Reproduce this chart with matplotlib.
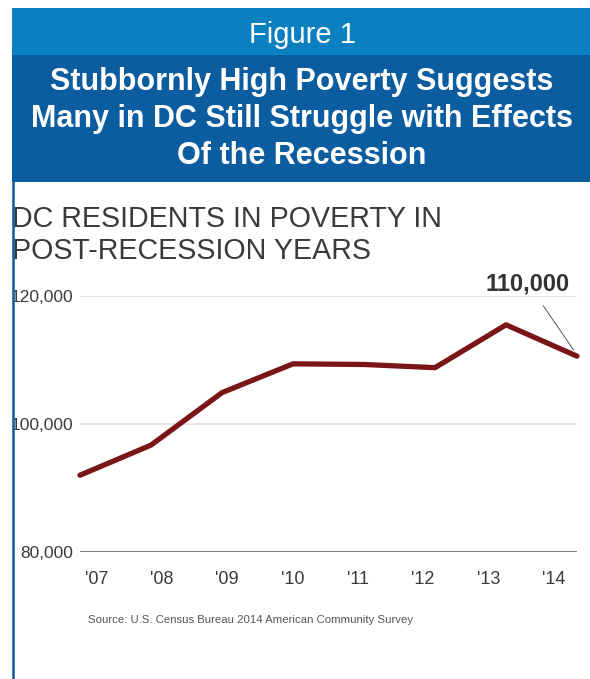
import matplotlib.pyplot as plt
from matplotlib.patches import Rectangle
from matplotlib.lines import Line2D

years = [2007, 2008, 2009, 2010, 2011, 2012, 2013, 2014]
year_labels = ["'07", "'08", "'09", "'10", "'11", "'12", "'13", "'14"]
residents_in_poverty = [92000, 96700, 104900, 109400, 109300, 108800, 115500, 110600]
y_ticks = [80000, 100000, 120000]
y_tick_labels = ["80,000", "100,000", "120,000"]
callout = "110,000"

W, H = 590, 679
fig = plt.figure(figsize=(W / 100, H / 100), dpi=100)


def fx(px):
    return px / W


def fy(py):
    return 1 - py / H


sans = ['Liberation Sans', 'DejaVu Sans']

# header bands
fig.add_artist(Rectangle((fx(12), fy(55)), fx(590 - 12), 47 / H,
                         transform=fig.transFigure, color='#0a80c1', lw=0))
fig.add_artist(Rectangle((fx(12), fy(182)), fx(590 - 12), 127 / H,
                         transform=fig.transFigure, color='#0c5d9f', lw=0))
fig.add_artist(Line2D([fx(13), fx(13)], [fy(182), 0], transform=fig.transFigure,
                      color='#0c5d9f', lw=1.8, zorder=10))

fig.text(fx(302), fy(35), "Figure 1", color='white', fontsize=21,
         ha='center', va='center', family=sans)
title_lines = ["Stubbornly High Poverty Suggests",
               "Many in DC Still Struggle with Effects",
               "Of the Recession"]
for i, line in enumerate(title_lines):
    fig.text(fx(302), fy(82 + i * 37), line, color='white', fontsize=22,
             fontweight='bold', ha='center', va='center', family=sans)

fig.text(fx(12), fy(219), "DC RESIDENTS IN POVERTY IN", color='#3a3a3a',
         fontsize=20.6, ha='left', va='center', family=sans)
fig.text(fx(12), fy(251), "POST-RECESSION YEARS", color='#3a3a3a',
         fontsize=20.6, ha='left', va='center', family=sans)

# chart
ax = fig.add_axes([fx(80), fy(552), fx(577 - 80), (552 - 296) / H])
ax.set_xlim(years[0], years[-1])
ax.set_ylim(y_ticks[0], y_ticks[-1])
for v in y_ticks[1:]:
    ax.axhline(v, color='#e6e6e6', lw=1.4, zorder=1)
ax.axhline(y_ticks[0], color='#6f6f6f', lw=2, zorder=1)
ax.plot(years, residents_in_poverty, color='#7a1517', lw=3.8,
        solid_capstyle='round', solid_joinstyle='round', clip_on=False, zorder=3)

for s in ax.spines.values():
    s.set_visible(False)
ax.set_yticks(y_ticks)
ax.set_yticklabels(y_tick_labels, family=sans, fontsize=12.5, color='#3a3a3a')
label_pos = [years[0] + 0.23 + (y - years[0]) * 0.92 for y in years]
ax.set_xticks(label_pos)
ax.set_xticklabels(year_labels, family=sans, fontsize=13, color='#3a3a3a')
ax.tick_params(length=0, axis='y', pad=5)
ax.tick_params(length=0, axis='x', pad=14)

ax.annotate(callout, xy=(years[-1] - 0.05, residents_in_poverty[-1] + 1000),
            xytext=(years[-1] - 0.69, 120150), fontsize=17, fontweight='bold',
            color='#333333', ha='center', va='bottom', family=sans,
            bbox=dict(facecolor='white', edgecolor='none', pad=1),
            arrowprops=dict(arrowstyle='-', color='#555555', lw=0.7,
                            shrinkA=8, shrinkB=0), annotation_clip=False, zorder=4)

fig.text(fx(88), fy(620), "Source: U.S. Census Bureau 2014 American Community Survey",
         fontsize=8.2, color='#555555', ha='left', va='center', family=sans)

fig.savefig('out.png', dpi=100)
